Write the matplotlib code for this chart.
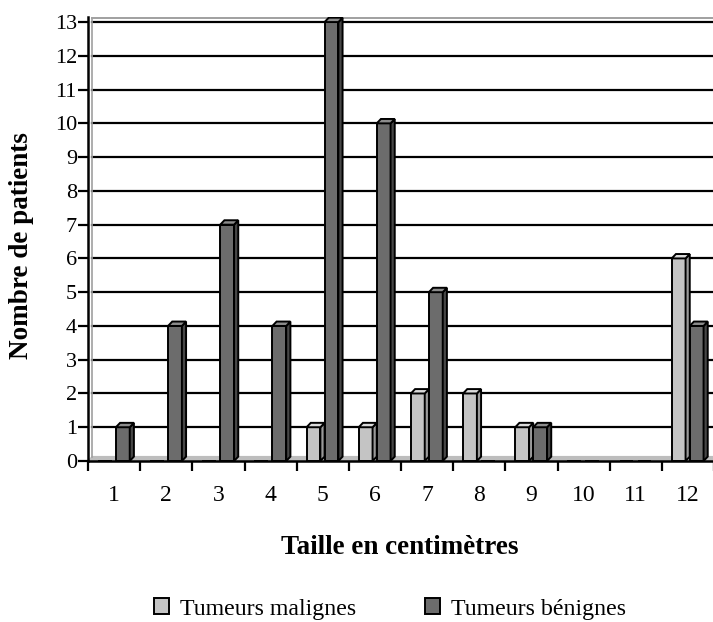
import matplotlib
matplotlib.use('Agg')
import matplotlib.pyplot as plt
from matplotlib.patches import Patch

# data
tailles = [1, 2, 3, 4, 5, 6, 7, 8, 9, 10, 11, 12]
malignes = [0, 0, 0, 0, 1, 1, 2, 2, 1, 0, 0, 6]
benignes = [1, 4, 7, 4, 13, 10, 5, 0, 1, 0, 0, 4]
y_ticks = list(range(0, 14))

plt.rcParams['font.family'] = ['Liberation Serif', 'DejaVu Serif']

fig = plt.figure(figsize=(7.13, 6.22), dpi=100)
ax = fig.add_axes([88 / 713, 1 - 461 / 622, 626 / 713, 444 / 622])

# 3D look: depth of the columns in data units
dx = 0.08
dy = 0.13
w = 0.265


def bar3d(x0, h, face, side, top):
    ax.bar(x0, h, width=w, align='edge', color=face, edgecolor='black',
           linewidth=1.4, zorder=3)
    if h > 0:
        ax.fill([x0 + w, x0 + w + dx, x0 + w + dx, x0 + w],
                [0, dy, h + dy, h], facecolor=side, edgecolor='black',
                linewidth=1.4, zorder=3)
        ax.fill([x0, x0 + dx, x0 + w + dx, x0 + w],
                [h, h + dy, h + dy, h], facecolor=top, edgecolor='black',
                linewidth=1.4, zorder=3)


# floor and back wall
ax.fill([0.5, 0.5 + dx, 12.6, 12.6], [0, dy, dy, 0], color='#bdbdbd', zorder=1)
for v in y_ticks[1:]:
    ax.plot([0.5 + dx, 12.6], [v, v], color='black', linewidth=1.6, zorder=2)
ax.plot([0.5 + dx, 12.6], [13 + dy, 13 + dy], color='#a0a0a0', linewidth=1.4, zorder=2)
ax.plot([0.5 + dx, 0.5 + dx], [dy, 13 + dy], color='#a0a0a0', linewidth=1.2, zorder=2)

for c, m, b in zip(tailles, malignes, benignes):
    left = c - 0.31
    bar3d(left, m, '#c4c4c4', '#9a9a9a', '#dadada')
    bar3d(left + w + dx, b, '#6c6c6c', '#474747', '#8c8c8c')

ax.set_xlim(0.5, 12.5)
ax.set_ylim(0, 13 + dy + 0.02)

ax.set_xticks(tailles)
ax.set_xticklabels([str(t) for t in tailles])
ax.set_xticks([t + 0.5 for t in range(0, 13)], minor=True)
ax.tick_params(axis='x', which='major', length=0, pad=17, labelsize=17)
ax.tick_params(axis='x', which='minor', length=7, width=1.6, direction='out')
ax.set_yticks(y_ticks)
ax.tick_params(axis='y', length=7, width=1.6, direction='out', pad=1, labelsize=16)

for s in ['top', 'right']:
    ax.spines[s].set_visible(False)
for s in ['left', 'bottom']:
    ax.spines[s].set_linewidth(1.8)
    ax.spines[s].set_zorder(4)

fig.text(400 / 713, 1 - 547 / 622, 'Taille en centimètres', fontsize=19.5,
         fontweight='bold', ha='center', va='center')
fig.text(22 / 713, 1 - 246 / 622, 'Nombre de patients', rotation=90,
         fontsize=19.5, fontweight='bold', ha='center', va='center')

handles = [Patch(facecolor='#c4c4c4', edgecolor='black', linewidth=1.4),
           Patch(facecolor='#6c6c6c', edgecolor='black', linewidth=1.4)]
fig.legend(handles, ['Tumeurs malignes', 'Tumeurs bénignes'], ncol=2,
           loc='center left', bbox_to_anchor=(154 / 713, 1 - 609 / 622),
           frameon=False, fontsize=17.2, handlelength=0.62, handleheight=0.62,
           handletextpad=0.45, columnspacing=2.9, borderpad=0, borderaxespad=0)

fig.savefig('out.png', dpi=100)
